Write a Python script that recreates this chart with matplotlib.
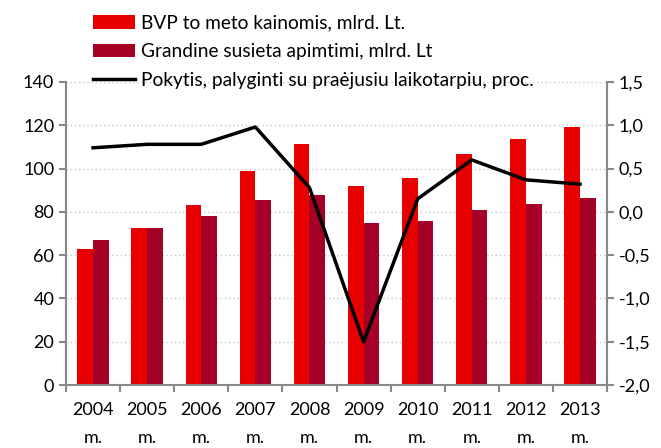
import matplotlib.pyplot as plt
import numpy as np

years = ['2004', '2005', '2006', '2007', '2008', '2009', '2010', '2011', '2012', '2013']
bvp = [63, 72.5, 83, 99, 111.5, 92, 95.5, 106.5, 113.5, 119]
grandine = [67, 72.5, 78, 85.5, 88, 75, 76, 81, 83.5, 86.5]
pokytis = [0.74, 0.78, 0.78, 0.98, 0.28, -1.5, 0.15, 0.6, 0.37, 0.32]

plt.rcParams['font.family'] = ['Lato', 'DejaVu Sans']

fig = plt.figure(figsize=(6.61, 4.48), dpi=100)
ax = fig.add_axes([0.0999, 0.1406, 0.8184, 0.6764])

x = np.arange(len(years))
w = 0.29
b1 = ax.bar(x - w / 2, bvp, w, color='#e80000', label='BVP to meto kainomis, mlrd. Lt.', zorder=2)
b2 = ax.bar(x + w / 2, grandine, w, color='#a50026', label='Grandine susieta apimtimi, mlrd. Lt', zorder=2)

ax.set_xlim(-0.5, len(years) - 0.5)
ax.set_ylim(0, 140)
ax.set_yticks(range(0, 141, 20))
ax.yaxis.grid(True, linestyle=(0, (1, 2)), color='#c8c8c8', linewidth=1, zorder=0)

ax.set_xticks(np.arange(-0.5, len(years), 1))
ax.set_xticklabels([])
ax.set_xticks(x, minor=True)
ax.set_xticklabels([y + '\nm.' for y in years], minor=True, fontsize=13, linespacing=1.95)
ax.tick_params(axis='x', which='minor', length=0, pad=12)
ax.tick_params(axis='x', which='major', length=5, color='#888888', width=1.5)
ax.tick_params(axis='y', length=5, color='#888888', width=1.5, labelsize=13)

for s in ['top', 'right']:
    ax.spines[s].set_visible(False)
for s in ['left', 'bottom']:
    ax.spines[s].set_color('#888888')
    ax.spines[s].set_linewidth(1.5)

ax2 = ax.twinx()
line, = ax2.plot(x, pokytis, color='black', linewidth=2.5,
                 label='Pokytis, palyginti su praėjusiu laikotarpiu, proc.', zorder=3)
ax2.set_ylim(-2.0, 1.5)
ax2.set_yticks(np.arange(-2.0, 1.51, 0.5))
ax2.set_yticklabels([('%.1f' % v).replace('.', ',') for v in np.arange(-2.0, 1.51, 0.5)])
ax2.tick_params(axis='y', length=5, color='#888888', width=1.5, labelsize=13)
for s in ['top', 'left', 'bottom']:
    ax2.spines[s].set_visible(False)
ax2.spines['right'].set_color('#888888')
ax2.spines['right'].set_linewidth(1.5)

fig.legend(handles=[b1, b2, line], loc='upper left', bbox_to_anchor=(0.12, 0.997),
           frameon=False, fontsize=13.8, handlelength=2.2, handleheight=0.7,
           labelspacing=0.6, handletextpad=0.3, borderaxespad=0.3)

fig.savefig('out.png', dpi=100)
